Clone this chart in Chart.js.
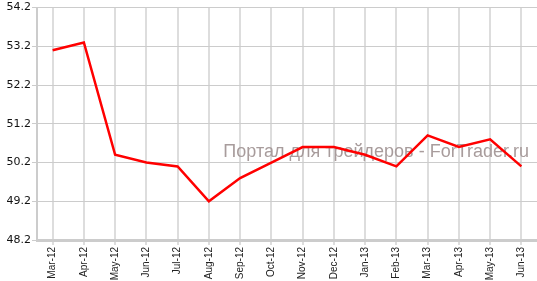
<!DOCTYPE html>
<html>
<head>
<meta charset="utf-8">
<script src="https://cdn.jsdelivr.net/npm/chart.js@4/dist/chart.umd.min.js"></script>
<style>
    html, body { margin: 0; padding: 0; background: #ffffff; }
    #wrap { width: 537px; height: 281px; position: relative; }
</style>
</head>
<body>
<div id="wrap"><canvas id="pmiChart"></canvas></div>
<script>
// categories and values
const months = ['Mar-12', 'Apr-12', 'May-12', 'Jun-12', 'Jul-12', 'Aug-12', 'Sep-12', 'Oct-12',
    'Nov-12', 'Dec-12', 'Jan-13', 'Feb-13', 'Mar-13', 'Apr-13', 'May-13', 'Jun-13'];
const indexValues = [53.1, 53.3, 50.4, 50.2, 50.1, 49.2, 49.8, 50.2,
    50.6, 50.6, 50.4, 50.1, 50.9, 50.6, 50.8, 50.1];
const yTicks = [48.2, 49.2, 50.2, 51.2, 52.2, 53.2, 54.2];
const watermark = 'Портал для трейдеров - ForTrader.ru';

// watermark sits under the line
const watermarkPlugin = {
    id: 'watermark',
    beforeDatasetsDraw(chart) {
        const { ctx, chartArea } = chart;
        ctx.save();
        ctx.font = '18px "Liberation Sans", Arial, sans-serif';
        ctx.fillStyle = '#a89c9c';
        ctx.textAlign = 'right';
        ctx.textBaseline = 'alphabetic';
        ctx.fillText(watermark, chartArea.right - 8, chart.scales.y.getPixelForValue(50.33));
        ctx.restore();
    }
};

new Chart(document.getElementById('pmiChart'), {
    type: 'line',
    data: {
        labels: months,
        datasets: [{
            data: indexValues,
            borderColor: '#ff0000',
            borderWidth: 2.5,
            pointRadius: 0,
            tension: 0,
            fill: false
        }]
    },
    options: {
        responsive: true,
        maintainAspectRatio: false,
        animation: false,
        layout: { padding: { top: -3, right: -3, left: 0, bottom: 0 } },
        plugins: {
            legend: { display: false },
            tooltip: { enabled: false }
        },
        scales: {
            x: {
                offset: true,
                grid: {
                    offset: false,
                    color: '#dddddd',
                    lineWidth: 2,
                    tickLength: 5,
                    drawTicks: true
                },
                border: { color: '#cccccc', width: 3 },
                ticks: {
                    maxRotation: 90,
                    minRotation: 90,
                    autoSkip: false,
                    padding: 2,
                    color: '#222222',
                    font: { family: '"Liberation Sans", Arial, sans-serif', size: 10 }
                },
                afterFit(scale) { scale.height = 41; }
            },
            y: {
                min: yTicks[0],
                max: yTicks[yTicks.length - 1],
                afterBuildTicks(scale) {
                    scale.ticks = yTicks.map(v => ({ value: v }));
                },
                grid: {
                    color: '#cccccc',
                    lineWidth: 1,
                    tickLength: 5
                },
                border: { color: '#cccccc', width: 2 },
                ticks: {
                    padding: 1,
                    color: '#111111',
                    font: { family: '"DejaVu Sans", Verdana, sans-serif', size: 11 },
                    callback: value => Number(value).toFixed(1)
                },
                afterFit(scale) { scale.width = 37; }
            }
        }
    },
    plugins: [watermarkPlugin]
});
</script>
</body>
</html>
